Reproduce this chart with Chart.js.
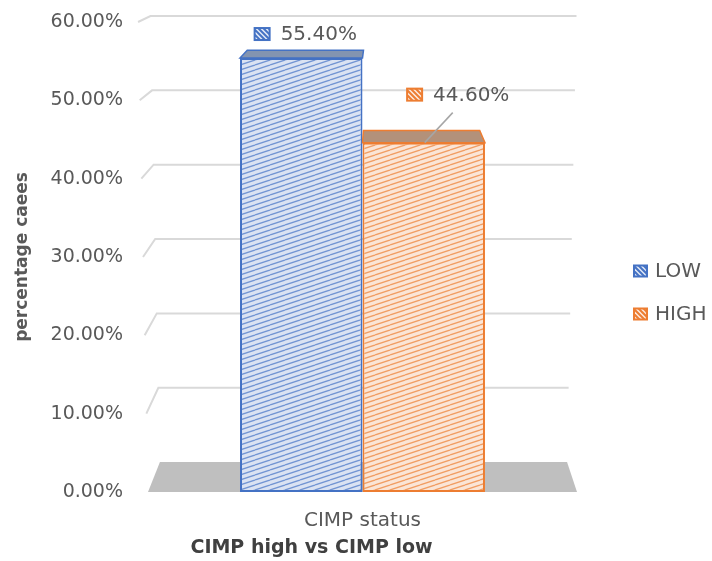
<!DOCTYPE html>
<html>
<head>
<meta charset="utf-8">
<script src="https://cdn.jsdelivr.net/npm/chart.js@4.4.0/dist/chart.umd.min.js"></script>
<style>
  html, body { margin: 0; padding: 0; background: #fff; }
</style>
</head>
<body>
<canvas id="cimpChart" width="712" height="561"></canvas>
<script>
const categories = ['CIMP status'];
const seriesNames = ['LOW', 'HIGH'];
const lowValues = [0.554];
const highValues = [0.446];
const yTicks = [0, 0.1, 0.2, 0.3, 0.4, 0.5, 0.6];

const FONT = 'DejaVu Sans';
const TEXT = '#595959';
const colors = {
    LOW: { line: '#4472c4', light: '#dae3f3', top: '#8394b0' },
    HIGH: { line: '#ed7d31', light: '#fbe5d6', top: '#b3917a' }
};

const canvas = document.getElementById('cimpChart');
const ctx = canvas.getContext('2d');

// striped fill used on the bar faces
function hatch(light, line) {
    const tile = document.createElement('canvas');
    tile.width = 15;
    tile.height = 5;
    const g = tile.getContext('2d');
    g.fillStyle = light;
    g.fillRect(0, 0, 15, 5);
    g.strokeStyle = line;
    g.globalAlpha = 0.7;
    g.lineWidth = 1.3;
    for (const o of [-5, 0, 5]) {
        g.beginPath();
        g.moveTo(0, 5 + o);
        g.lineTo(15, o);
        g.stroke();
    }
    return ctx.createPattern(tile, 'repeat');
}

// perspective: points on the front plane pushed back toward the vanishing point
function backOf(chart) {
    const a = chart.chartArea;
    const vx = a.left + (a.right - a.left) * 0.545;
    const vy = a.top - 117;
    const s = 0.949;
    return p => ({ x: vx + (p.x - vx) * s, y: vy + (p.y - vy) * s });
}

function slant(chart, py) {
    return (chart.chartArea.bottom - py) * 0.0212;
}

// small solid key with white stripes (labels and legend)
function drawKey(c, x, y, w, h, color) {
    c.save();
    c.fillStyle = color;
    c.fillRect(x, y, w, h);
    c.beginPath();
    c.rect(x + 2, y + 2, w - 4, h - 4);
    c.clip();
    c.strokeStyle = 'rgba(255,255,255,0.85)';
    c.lineWidth = 1.5;
    for (let o = -h; o < w + h; o += 5) {
        c.beginPath();
        c.moveTo(x + o, y);
        c.lineTo(x + o + h, y + h);
        c.stroke();
    }
    c.restore();
}

const labelPlacement = [
    { dx: 4, dy: -23, leader: false },
    { dx: 34, dy: -47, leader: true }
];

const wall3d = {
    id: 'wall3d',
    beforeDatasetsDraw(chart) {
        const c = chart.ctx;
        const a = chart.chartArea;
        const back = backOf(chart);
        const yScale = chart.scales.y;
        c.save();

        // floor
        const fl = { x: a.left, y: a.bottom };
        const fr = { x: a.right, y: a.bottom };
        const bl = back(fl);
        const br = back(fr);
        c.fillStyle = '#bfbfbf';
        c.beginPath();
        c.moveTo(fl.x, fl.y);
        c.lineTo(bl.x, bl.y);
        c.lineTo(br.x, br.y);
        c.lineTo(fr.x, fr.y);
        c.closePath();
        c.fill();

        // side + back wall gridlines
        c.strokeStyle = '#d9d9d9';
        c.lineWidth = 2;
        yTicks.forEach(v => {
            if (v === 0) return;
            const py = yScale.getPixelForValue(v);
            const k = slant(chart, py);
            const f = { x: a.left - k, y: py };
            const b1 = back(f);
            const b2 = back({ x: a.right + k, y: py });
            c.beginPath();
            c.moveTo(f.x, f.y);
            c.lineTo(b1.x, b1.y);
            c.lineTo(b2.x, b2.y);
            c.stroke();
        });
        c.restore();
    },
    afterDatasetsDraw(chart) {
        const c = chart.ctx;
        const back = backOf(chart);
        c.save();
        chart.data.datasets.forEach((ds, i) => {
            const meta = chart.getDatasetMeta(i);
            const col = colors[ds.label];
            meta.data.forEach((bar, j) => {
                const { x, y, width } = bar.getProps(['x', 'y', 'width'], true);
                const p1 = { x: x - width / 2, y: y };
                const p2 = { x: x + width / 2, y: y };
                const p3 = back(p2);
                const p4 = back(p1);
                c.fillStyle = col.top;
                c.strokeStyle = col.line;
                c.lineWidth = 1.5;
                c.beginPath();
                c.moveTo(p1.x, p1.y);
                c.lineTo(p2.x, p2.y);
                c.lineTo(p3.x, p3.y);
                c.lineTo(p4.x, p4.y);
                c.closePath();
                c.fill();
                c.stroke();

                // value label with its key
                const place = labelPlacement[i];
                const text = (ds.data[j] * 100).toFixed(2) + '%';
                c.font = '20px "' + FONT + '"';
                const tw = c.measureText(text).width;
                const total = 17 + 10 + tw;
                const cx = x + place.dx;
                const cy = y + place.dy;
                const left = cx - total / 2;
                drawKey(c, left, cy - 8, 17, 14, col.line);
                c.fillStyle = TEXT;
                c.textAlign = 'left';
                c.textBaseline = 'middle';
                c.fillText(text, left + 27, cy);
                if (place.leader) {
                    c.strokeStyle = '#a6a6a6';
                    c.lineWidth = 1.5;
                    c.beginPath();
                    c.moveTo(cx - 5, cy + 17);
                    c.lineTo(x + 1, y);
                    c.stroke();
                }
            });
        });
        c.restore();
    },
    afterDraw(chart) {
        const c = chart.ctx;
        const a = chart.chartArea;
        c.save();
        // legend
        const midY = (a.top + a.bottom) / 2;
        chart.data.datasets.forEach((ds, i) => {
            const ly = midY + 14.5 + i * 43;
            drawKey(c, a.right + 56, ly - 7, 15, 13, colors[ds.label].line);
            c.fillStyle = TEXT;
            c.font = '20px "' + FONT + '"';
            c.textAlign = 'left';
            c.textBaseline = 'middle';
            c.fillText(ds.label, a.right + 78, ly);
        });
        // caption under the category axis
        c.fillStyle = '#404040';
        c.font = 'bold 19px "' + FONT + '"';
        c.textAlign = 'center';
        c.textBaseline = 'middle';
        c.fillText('CIMP high vs CIMP low', (a.left + a.right) / 2 - 51, a.bottom + 56);
        c.restore();
    }
};

const cimpChart = new Chart(ctx, {
    type: 'bar',
    data: {
        labels: categories,
        datasets: [
            {
                label: seriesNames[0],
                data: lowValues,
                backgroundColor: hatch(colors.LOW.light, colors.LOW.line),
                borderColor: colors.LOW.line,
                borderWidth: 2,
                borderSkipped: false
            },
            {
                label: seriesNames[1],
                data: highValues,
                backgroundColor: hatch(colors.HIGH.light, colors.HIGH.line),
                borderColor: colors.HIGH.line,
                borderWidth: 2,
                borderSkipped: false
            }
        ]
    },
    options: {
        responsive: false,
        animation: false,
        devicePixelRatio: 1,
        layout: { padding: { top: 22, right: 135, bottom: 29, left: 0 } },
        datasets: { bar: { categoryPercentage: 0.571, barPercentage: 1 } },
        plugins: {
            legend: { display: false },
            tooltip: { enabled: false }
        },
        scales: {
            x: {
                grid: { display: false },
                border: { display: false },
                ticks: { color: TEXT, font: { family: FONT, size: 20 }, padding: 9 },
                afterFit(scale) { scale.height = 40; }
            },
            y: {
                min: 0,
                max: 0.6,
                // tick marks are hidden; their length only spaces the labels off the floor edge
                grid: { display: false, drawTicks: true, tickLength: 22 },
                border: { display: false },
                afterBuildTicks(scale) { scale.ticks = yTicks.map(v => ({ value: v })); },
                ticks: {
                    color: TEXT,
                    font: { family: FONT, size: 19 },
                    padding: 3,
                    callback: v => (v * 100).toFixed(2) + '%'
                },
                title: {
                    display: true,
                    text: 'percentage caees',
                    color: TEXT,
                    font: { family: FONT, size: 17, weight: 'bold' },
                    padding: { top: 12, bottom: 0 }
                },
                afterFit(scale) { scale.width = 148; }
            }
        }
    },
    plugins: [wall3d]
});
</script>
</body>
</html>
